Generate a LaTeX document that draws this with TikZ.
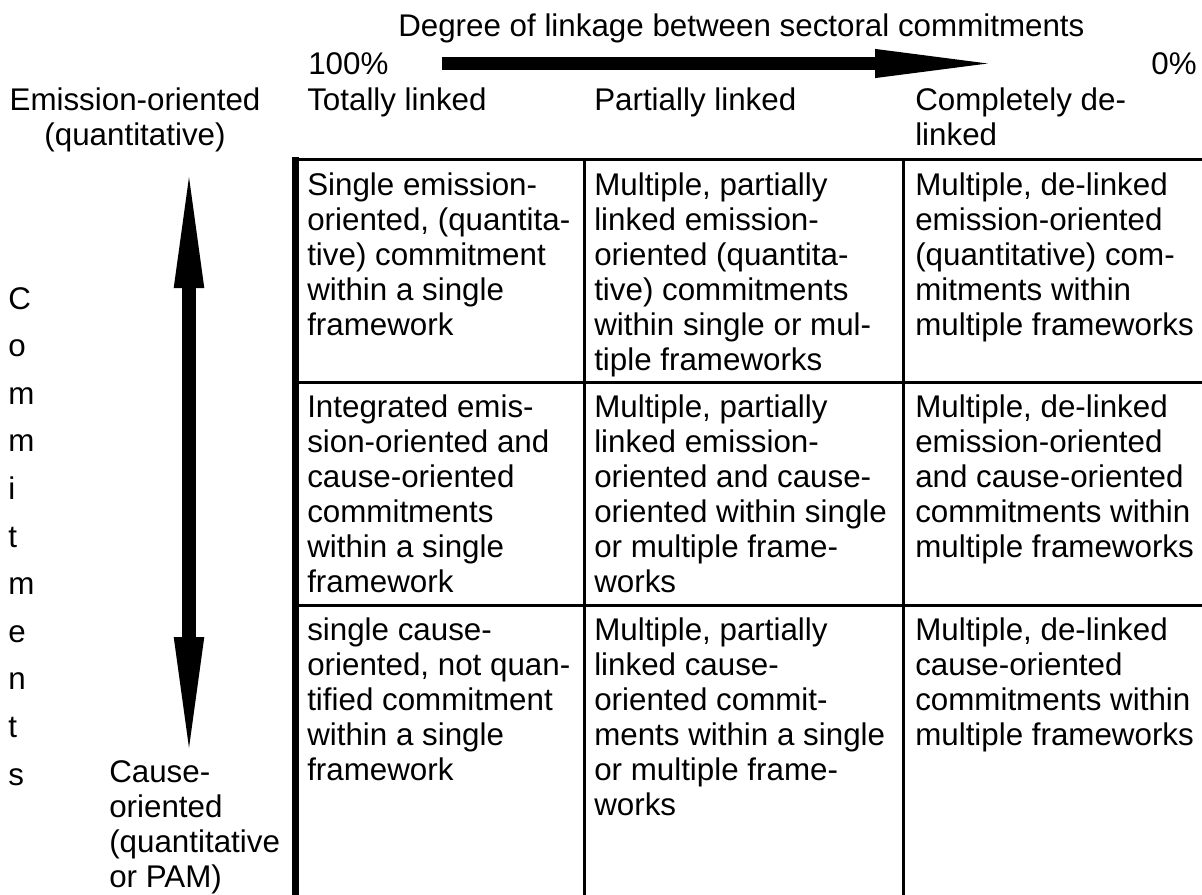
\documentclass[tikz,border=0pt]{standalone}
\usepackage{fontspec}
\setmainfont{Liberation Sans}
\usetikzlibrary{arrows.meta}

\newcommand{\celltext}{\fontsize{23.5}{26.25}\selectfont}
\tikzset{
  cell/.style={anchor=north west, inner sep=0pt, align=left, font=\celltext},
  heading/.style={anchor=base west, inner sep=0pt, font=\celltext},
  gridline/.style={line width=2.25pt},
  fatline/.style={line width=5.25pt},
}

\begin{document}
\begin{tikzpicture}[x=0.75pt,y=0.75pt,yscale=-1,xscale=1]
\useasboundingbox (0,0) rectangle (1202,895);

%Heading texts
\node [heading] (degree) at (398,37) {Degree of linkage between sectoral commitments};
\node [heading] (full) at (308,75) {100\%};
\node [heading, anchor=base east] (none) at (1197,75) {0\%};
\node [cell, anchor=north, align=center] (emission) at (135,88) {Emission-oriented\\(quantitative)};
\node [cell] (totally) at (307,88) {Totally linked};
\node [cell] (partially) at (594,88) {Partially linked};
\node [cell] (completely) at (915,88) {Completely de-\\linked};

%Arrows
\coordinate (linkstart) at (441.5,63.5);
\coordinate (linkend) at (1005,63.5);
\draw [line width=9.75pt, -{Triangle[length=97.5pt, width=18.75pt]}] (linkstart) -- (linkend);
\coordinate (uptip) at (189,158);
\coordinate (downtip) at (189,767);
\draw [line width=10.5pt, {Triangle[length=97.5pt, width=19.5pt]}-{Triangle[length=97.5pt, width=19.5pt]}] (uptip) -- (downtip);

%Side texts
\node [cell, font=\fontsize{23.5}{35.7}\selectfont] (commit) at (8,287) {C\\o\\m\\m\\i\\t\\m\\e\\n\\t\\s};
\node [cell] (cause) at (109,760) {Cause-\\oriented\\(quantitative\\or PAM)};

%Table lines
\draw [gridline] (292,159.5) -- (1202,159.5);
\draw [gridline] (292,382.5) -- (1202,382.5);
\draw [gridline] (292,605) -- (1202,605);
\draw [fatline] (295.5,157) -- (295.5,895);
\draw [gridline] (584.5,159) -- (584.5,895);
\draw [gridline] (903,159) -- (903,895);

%Row one
\node [cell] (oneA) at (307,172.2) {Single emission-\\oriented, (quantita-\\tive) commitment\\within a single\\framework};
\node [cell] (oneB) at (594,172.2) {Multiple, partially\\linked emission-\\oriented (quantita-\\tive) commitments\\within single or mul-\\tiple frameworks};
\node [cell] (oneC) at (915,172.2) {Multiple, de-linked\\emission-oriented\\(quantitative) com-\\mitments within\\multiple frameworks};

%Row two
\node [cell] (twoA) at (307,394.7) {Integrated emis-\\sion-oriented and\\cause-oriented\\commitments\\within a single\\framework};
\node [cell] (twoB) at (594,394.7) {Multiple, partially\\linked emission-\\oriented and cause-\\oriented within single\\or multiple frame-\\works};
\node [cell] (twoC) at (915,394.7) {Multiple, de-linked\\emission-oriented\\and cause-oriented\\commitments within\\multiple frameworks};

%Row three
\node [cell] (threeA) at (307,617.2) {single cause-\\oriented, not quan-\\tified commitment\\within a single\\framework};
\node [cell] (threeB) at (594,617.2) {Multiple, partially\\linked cause-\\oriented commit-\\ments within a single\\or multiple frame-\\works};
\node [cell] (threeC) at (915,617.2) {Multiple, de-linked\\cause-oriented\\commitments within\\multiple frameworks};
\end{tikzpicture}
\end{document}
